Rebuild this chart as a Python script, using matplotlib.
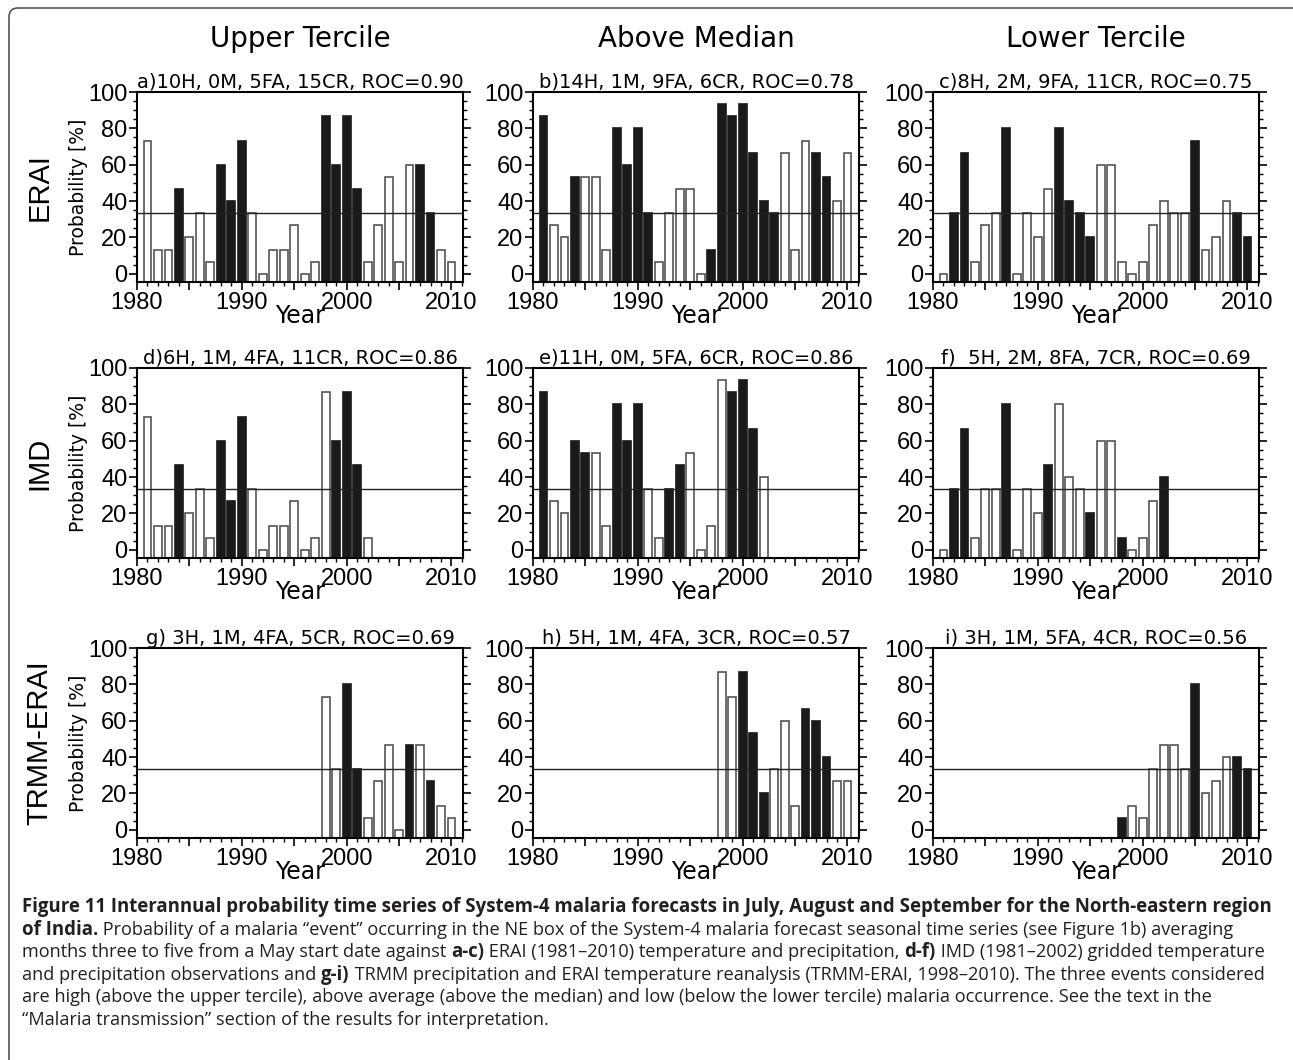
import numpy as np
import matplotlib
matplotlib.use("Agg")
import matplotlib.pyplot as plt
from matplotlib.patches import FancyBboxPatch
from matplotlib.ticker import MultipleLocator, FuncFormatter

# years covered by each dataset
erai_years = list(range(1981, 2011))
imd_years = list(range(1981, 2003))
trmm_years = list(range(1998, 2011))

# forecast probability [%] per year, and whether the event was observed (1 = black bar)
erai_upper = [73.3, 13.3, 13.3, 46.7, 20, 33.3, 6.7, 60, 40, 73.3, 33.3, 0, 13.3, 13.3, 26.7,
              0, 6.7, 86.7, 60, 86.7, 46.7, 6.7, 26.7, 53.3, 6.7, 60, 60, 33.3, 13.3, 6.7]
erai_upper_obs = [0, 0, 0, 1, 0, 0, 0, 1, 1, 1, 0, 0, 0, 0, 0,
                  0, 0, 1, 1, 1, 1, 0, 0, 0, 0, 0, 1, 1, 0, 0]
erai_median = [86.7, 26.7, 20, 53.3, 53.3, 53.3, 13.3, 80, 60, 80, 33.3, 6.7, 33.3, 46.7, 46.7,
               0, 13.3, 93.3, 86.7, 93.3, 66.7, 40, 33.3, 66.7, 13.3, 73.3, 66.7, 53.3, 40, 66.7]
erai_median_obs = [1, 0, 0, 1, 0, 0, 0, 1, 1, 1, 1, 0, 0, 0, 0,
                   0, 1, 1, 1, 1, 1, 1, 1, 0, 0, 0, 1, 1, 0, 0]
erai_lower = [0, 33.3, 66.7, 6.7, 26.7, 33.3, 80, 0, 33.3, 20, 46.7, 80, 40, 33.3, 20,
              60, 60, 6.7, 0, 6.7, 26.7, 40, 33.3, 33.3, 73.3, 13.3, 20, 40, 33.3, 20]
erai_lower_obs = [0, 1, 1, 0, 0, 0, 1, 0, 0, 0, 0, 1, 1, 1, 1,
                  0, 0, 0, 0, 0, 0, 0, 0, 0, 1, 0, 0, 0, 1, 1]

imd_upper = [73.3, 13.3, 13.3, 46.7, 20, 33.3, 6.7, 60, 26.7, 73.3, 33.3,
             0, 13.3, 13.3, 26.7, 0, 6.7, 86.7, 60, 86.7, 46.7, 6.7]
imd_upper_obs = [0, 0, 0, 1, 0, 0, 0, 1, 1, 1, 0,
                 0, 0, 0, 0, 0, 0, 0, 1, 1, 1, 0]
imd_median = [86.7, 26.7, 20, 60, 53.3, 53.3, 13.3, 80, 60, 80, 33.3,
              6.7, 33.3, 46.7, 53.3, 0, 13.3, 93.3, 86.7, 93.3, 66.7, 40]
imd_median_obs = [1, 0, 0, 1, 1, 0, 0, 1, 1, 1, 0,
                  0, 1, 1, 0, 0, 0, 0, 1, 1, 1, 0]
imd_lower = [0, 33.3, 66.7, 6.7, 33.3, 33.3, 80, 0, 33.3, 20, 46.7,
             80, 40, 33.3, 20, 60, 60, 6.7, 0, 6.7, 26.7, 40]
imd_lower_obs = [0, 1, 1, 0, 0, 0, 1, 0, 0, 0, 1,
                 0, 0, 0, 1, 0, 0, 1, 0, 0, 0, 1]

trmm_upper = [73.3, 33.3, 80, 33.3, 6.7, 26.7, 46.7, 0, 46.7, 46.7, 26.7, 13.3, 6.7]
trmm_upper_obs = [0, 0, 1, 1, 0, 0, 0, 0, 1, 0, 1, 0, 0]
trmm_median = [86.7, 73.3, 86.7, 53.3, 20, 33.3, 60, 13.3, 66.7, 60, 40, 26.7, 26.7]
trmm_median_obs = [0, 0, 1, 1, 1, 0, 0, 0, 1, 1, 1, 0, 0]
trmm_lower = [6.7, 13.3, 6.7, 33.3, 46.7, 46.7, 33.3, 80, 20, 26.7, 40, 40, 33.3]
trmm_lower_obs = [1, 0, 0, 0, 0, 0, 0, 1, 0, 0, 0, 1, 1]

panel_titles = ["a)10H, 0M, 5FA, 15CR, ROC=0.90", "b)14H, 1M, 9FA, 6CR, ROC=0.78",
                "c)8H, 2M, 9FA, 11CR, ROC=0.75",
                "d)6H, 1M, 4FA, 11CR, ROC=0.86", "e)11H, 0M, 5FA, 6CR, ROC=0.86",
                "f)  5H, 2M, 8FA, 7CR, ROC=0.69",
                "g) 3H, 1M, 4FA, 5CR, ROC=0.69", "h) 5H, 1M, 4FA, 3CR, ROC=0.57",
                "i) 3H, 1M, 5FA, 4CR, ROC=0.56"]
col_titles = ["Upper Tercile", "Above Median", "Lower Tercile"]
row_titles = ["ERAI", "IMD", "TRMM-ERAI"]
threshold = 100.0 / 3

panels = [
    (erai_years, erai_upper, erai_upper_obs), (erai_years, erai_median, erai_median_obs),
    (erai_years, erai_lower, erai_lower_obs),
    (imd_years, imd_upper, imd_upper_obs), (imd_years, imd_median, imd_median_obs),
    (imd_years, imd_lower, imd_lower_obs),
    (trmm_years, trmm_upper, trmm_upper_obs), (trmm_years, trmm_median, trmm_median_obs),
    (trmm_years, trmm_lower, trmm_lower_obs),
]

W, H = 1293, 1060
fig = plt.figure(figsize=(W / 100, H / 100), dpi=100)

# page frame (rounded corner at top-left, runs off the right/bottom)
frame = FancyBboxPatch((9, -60), 1500, H - 8 + 60, boxstyle="round,pad=0,rounding_size=9",
                       transform=None, fill=False, edgecolor="#555555", lw=1.2)
fig.patches.append(frame)

col_left = [137, 533, 933]
row_top = [92, 368, 648]
ax_w, ax_h = 326, 190
YMIN = -4.5

for i, (yrs, vals, obs) in enumerate(panels):
    r, c = divmod(i, 3)
    ax = fig.add_axes([col_left[c] / W, 1 - (row_top[r] + ax_h) / H, ax_w / W, ax_h / H])
    yrs = np.array(yrs)
    vals = np.array(vals, dtype=float)
    obs = np.array(obs, dtype=bool)
    ax.bar(yrs[~obs], vals[~obs] - YMIN, bottom=YMIN, width=0.75,
           facecolor="white", edgecolor="#555555", lw=1.2, zorder=2)
    ax.bar(yrs[obs], vals[obs] - YMIN, bottom=YMIN, width=0.75,
           facecolor="#1a1a1a", edgecolor="#1a1a1a", lw=1.2, zorder=2)
    ax.axhline(threshold, color="#222222", lw=1.0, zorder=3)
    ax.set_xlim(1980, 2011.1)
    ax.set_ylim(YMIN, 100)
    ax.xaxis.set_major_locator(MultipleLocator(5))
    ax.xaxis.set_minor_locator(MultipleLocator(1))
    ax.xaxis.set_major_formatter(FuncFormatter(lambda v, p: "%d" % v if int(round(v)) % 10 == 0 else ""))
    ax.yaxis.set_minor_locator(MultipleLocator(5))
    ax.set_yticks(range(0, 101, 20))
    ax.tick_params(axis="y", which="both", direction="out", left=True, right=True,
                   labelsize=17, pad=1)
    ax.tick_params(axis="x", which="both", direction="out", top=False, labelsize=17, pad=1)
    ax.tick_params(which="major", length=6, width=1.2)
    ax.tick_params(which="minor", length=3, width=1.0)
    for lab in ax.get_xticklabels() + ax.get_yticklabels():
        lab.set_fontfamily("Liberation Sans")
    for sp in ax.spines.values():
        sp.set_linewidth(1.5)
    ax.set_xlabel("Year", fontsize=17, labelpad=-7)
    ax.set_title(panel_titles[i], fontsize=14, pad=3)
    if c == 0:
        ax.set_ylabel("Probability [%]", fontsize=13.5, labelpad=0)
        ax.text(-0.3, 0.5, row_titles[r], transform=ax.transAxes, rotation=90,
                ha="center", va="center", fontsize=21, family="Liberation Sans")
    if r == 0:
        ax.text(0.5, 1.28, col_titles[c], transform=ax.transAxes, ha="center",
                va="center", fontsize=20)

# caption with mixed bold / regular runs
cap_font = ["Open Sans", "DejaVu Sans"]
cap_size = {"bold": 13.4, "normal": 13.1}
caption = [
    [("Figure 11 Interannual probability time series of System-4 malaria forecasts in July, "
      "August and September for the North-eastern region", "bold")],
    [("of India.", "bold"),
     (" Probability of a malaria \u201cevent\u201d occurring in the NE box of the System-4 malaria "
      "forecast seasonal time series (see Figure 1b) averaging", "normal")],
    [("months three to five from a May start date against ", "normal"), ("a-c)", "bold"),
     (" ERAI (1981\u20132010) temperature and precipitation, ", "normal"), ("d-f)", "bold"),
     (" IMD (1981\u20132002) gridded temperature", "normal")],
    [("and precipitation observations and ", "normal"), ("g-i)", "bold"),
     (" TRMM precipitation and ERAI temperature reanalysis (TRMM-ERAI, 1998\u20132010). "
      "The three events considered", "normal")],
    [("are high (above the upper tercile), above average (above the median) and low (below the "
      "lower tercile) malaria occurrence. See the text in the", "normal")],
    [("\u201cMalaria transmission\u201d section of the results for interpretation.", "normal")],
]
renderer = fig.canvas.get_renderer()
y0, dy = 907, 22.6
for k, line in enumerate(caption):
    x = 22
    y = y0 + k * dy
    for txt, wt in line:
        t = fig.text(x / W, 1 - y / H, txt, fontsize=cap_size[wt], fontweight=wt,
                     family=cap_font, ha="left", va="center", color="#231f20")
        bb = t.get_window_extent(renderer=renderer)
        x += bb.width

fig.savefig("out.png", dpi=100)
